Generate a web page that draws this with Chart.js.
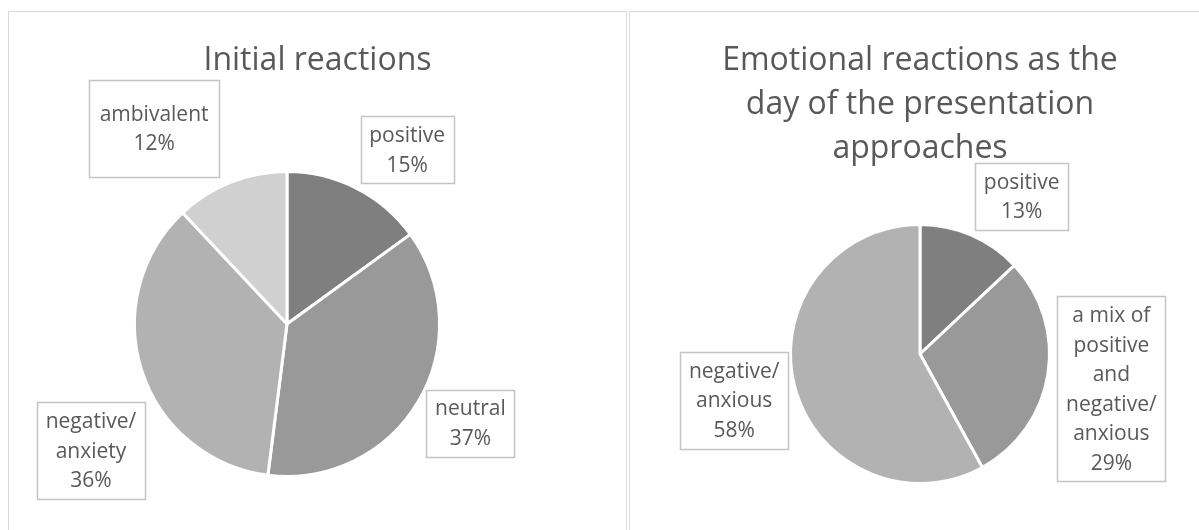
<!DOCTYPE html>
<html><head><meta charset="utf-8">
<script src="https://cdn.jsdelivr.net/npm/chart.js@4.4.1/dist/chart.umd.min.js"></script>
<style>
html,body{margin:0;padding:0;background:#fff;overflow:hidden;width:1199px;height:530px;}
.panel{position:absolute;border:1px solid #d9d9d9;background:#fff;}
#p1{left:8px;top:11px;width:617px;height:540px;}
#p2{left:629px;top:11px;width:580px;height:540px;}
canvas{display:block;}
</style></head><body>
<div class="panel" id="p1"><canvas id="c1" width="617" height="530"></canvas></div>
<div class="panel" id="p2"><canvas id="c2" width="580" height="530"></canvas></div>
<script>
// ---- data ----
const initialTitle = ['Initial reactions'];
const initialCategories = ['positive', 'neutral', 'negative/ anxiety', 'ambivalent'];
const initialValues = [15, 37, 36, 12];

const dayTitle = ['Emotional reactions as the', 'day of the presentation', 'approaches'];
const dayCategories = ['positive', 'a mix of positive and negative/ anxious', 'negative/ anxious'];
const dayValues = [13, 29, 58];

// ---- styles ----
const FONT = '"Open Sans", "DejaVu Sans", sans-serif';
const TEXT = '#595959';
const initialColors = ['#7f7f7f', '#999999', '#b2b2b2', '#d0d0d0'];
const dayColors = ['#7f7f7f', '#999999', '#b2b2b2'];

function wrap(ctx, text, maxW) {
  const words = text.split(' ');
  const lines = [];
  let cur = '';
  words.forEach(w => {
    const t = cur ? cur + ' ' + w : w;
    if (cur && ctx.measureText(t).width > maxW) { lines.push(cur); cur = w; }
    else cur = t;
  });
  if (cur) lines.push(cur);
  return lines;
}

const titlePlugin = {
  id: 'panelTitle',
  afterDraw(chart, args, o) {
    const ctx = chart.ctx;
    ctx.save();
    ctx.font = o.size + 'px ' + FONT;
    ctx.fillStyle = TEXT;
    ctx.textAlign = 'center';
    ctx.textBaseline = 'alphabetic';
    o.text.forEach((t, i) => ctx.fillText(t, chart.width / 2, o.baseline + i * o.lineHeight));
    ctx.restore();
  }
};

const boxLabels = {
  id: 'boxLabels',
  afterDatasetsDraw(chart, args, o) {
    const ctx = chart.ctx;
    const meta = chart.getDatasetMeta(0);
    const data = chart.data.datasets[0].data;
    const total = data.reduce((a, b) => a + b, 0);
    ctx.save();
    ctx.font = o.size + 'px ' + FONT;
    meta.data.forEach((arc, i) => {
      const p = arc.getProps(['x', 'y', 'startAngle', 'endAngle', 'outerRadius'], true);
      const pl = o.place[i];
      const a = (p.startAngle + p.endAngle) / 2 + pl.da * Math.PI / 180;
      const d = p.outerRadius + pl.dr;
      const cx = p.x + Math.cos(a) * d, cy = p.y + Math.sin(a) * d;
      const lines = wrap(ctx, chart.data.labels[i], o.wrapWidth)
        .concat([Math.round(data[i] / total * 100) + '%']);
      const tw = Math.max(...lines.map(l => ctx.measureText(l).width));
      const w = Math.round(tw + 2 * (o.padX + (pl.ex || 0)));
      const h = Math.round(lines.length * o.lineHeight + 2 * (o.padY + (pl.ey || 0)));
      const x0 = Math.round(cx - w / 2) + 0.5, y0 = Math.round(cy - h / 2) + 0.5;
      ctx.fillStyle = '#fff';
      ctx.fillRect(x0, y0, w, h);
      ctx.strokeStyle = o.borderColor;
      ctx.lineWidth = o.borderWidth;
      ctx.strokeRect(x0, y0, w, h);
      ctx.fillStyle = TEXT;
      ctx.textAlign = 'center';
      ctx.textBaseline = 'middle';
      const top = cy - lines.length * o.lineHeight / 2;
      lines.forEach((l, j) => ctx.fillText(l, cx, top + (j + 0.5) * o.lineHeight + 1));
    });
    ctx.restore();
  }
};

function padFor(cx, cy, R, W, H) {
  return { left: cx - R, right: W - cx - R, top: cy - R, bottom: H - cy - R };
}

function makePie(id, labels, values, colors, title, R, cx, cy, place) {
  const cv = document.getElementById(id);
  return new Chart(cv, {
    type: 'pie',
    data: {
      labels: labels,
      datasets: [{
        data: values,
        backgroundColor: colors,
        borderColor: '#ffffff',
        borderWidth: 3,
        radius: R
      }]
    },
    options: {
      responsive: false,
      animation: false,
      events: [],
      layout: { padding: padFor(cx, cy, R, cv.width, cv.height) },
      plugins: {
        legend: { display: false },
        tooltip: { enabled: false },
        title: { display: false },
        panelTitle: { text: title, size: 32, baseline: 58, lineHeight: 44 },
        boxLabels: {
          size: 21, lineHeight: 29.5, padX: 8.5, padY: 4, wrapWidth: 98,
          borderColor: '#c4c4c4', borderWidth: 1.5, place: place
        }
      }
    },
    plugins: [titlePlugin, boxLabels]
  });
}

function draw() {
  makePie('c1', initialCategories, initialValues, initialColors, initialTitle, 152.5, 278, 312, [
    { da: 7.6, dr: 59 },
    { da: -2.2, dr: 56 },
    { da: -14.9, dr: 81 },
    { da: -12.6, dr: 84, ex: 2, ey: 15 }
  ]);
  makePie('c2', dayCategories, dayValues, dayColors, dayTitle, 129.5, 290, 342, [
    { da: 9.45, dr: 58 },
    { da: 1.3, dr: 65 },
    { da: 0.4, dr: 62 }
  ]);
}
if (document.fonts && document.fonts.load) {
  Promise.all([document.fonts.load('21px "Open Sans"'), document.fonts.load('32px "Open Sans"')])
    .then(draw, draw);
} else draw();
</script>
</body></html>
